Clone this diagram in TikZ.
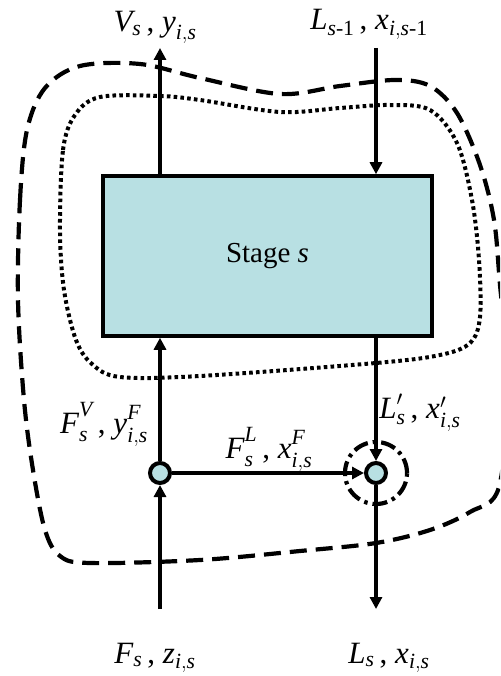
\documentclass[tikz,border=0pt]{standalone}
\usepackage{amsmath}
\usepackage{fontspec}
\setmainfont{Liberation Serif}
\usetikzlibrary{arrows.meta}
\definecolor{stagefill}{RGB}{184,224,227}
\newcommand\iv[1]{\textit{#1}}
\newcommand\sep{\,,\ }
% symbol with a superscript and a subscript held well apart
\newcommand\supsub[3]{#1^{\raisebox{4pt}{$\scriptstyle #2$}}_{\raisebox{-2pt}{$\scriptstyle #3$}}}
\begin{document}
\begin{tikzpicture}[x=1pt,y=-1pt,
  flow/.style={line width=4pt,-{Triangle[length=12pt,width=12pt]}},
  lbl/.style={font=\fontsize{31}{35}\selectfont,anchor=base,inner sep=0pt},
  junction/.style={circle,draw,line width=4pt,fill=stagefill,minimum size=20pt,inner sep=0pt},
  envelope/.style={line width=4.2pt,dash pattern=on 17pt off 9pt},
  controlvol/.style={line width=4pt,dash pattern=on 3.6pt off 3.2pt},
  mixzone/.style={line width=4.2pt,dash pattern=on 15pt off 5pt on 3.5pt off 5pt}]
\useasboundingbox (0,0) rectangle (500,676);

% outer envelope (dashed) and stage control volume (dotted)
\begin{scope}
  \clip (0,0) rectangle (500,676);
  \draw[envelope] plot[smooth cycle,tension=0.55] coordinates {
    (18,300) (20,200) (27,130) (45,88) (80,66) (140,64) (200,78) (280,94)
    (340,86) (395,80) (430,86) (457,113) (480,165) (494,220) (500,285)
    (508,380) (499,487) (470,512) (430,530) (376,543) (300,551) (200,560)
    (90,563) (60,556) (45,530) (33,470) (24,400)};
  \draw[controlvol] plot[smooth cycle,tension=0.55] coordinates {
    (60,230) (63,150) (75,115) (100,97) (160,96) (200,100) (280,112)
    (340,108) (390,105) (430,110) (457,143) (472,200) (479,260) (480,317)
    (470,343) (440,355) (376,363) (200,376) (120,377) (92,364) (76,340)
    (64,290)};
\end{scope}

% stage block
\node[draw,line width=3.5pt,fill=stagefill,minimum width=329pt,minimum height=160pt,
      font=\fontsize{29}{33}\selectfont] (stage) at (267.5,256) {Stage \textit{s}};

% feed split and liquid mixing junctions
\node[junction] (split) at (160,473) {};
\node[junction] (mix) at (376,473) {};
\draw[mixzone] (mix) circle (31pt);

% free ends of the streams
\coordinate (vout) at (160,48);
\coordinate (lin) at (376,48);
\coordinate (feed) at (160,609);
\coordinate (lout) at (376,609);

% streams
\draw[flow] (stage.north -| vout) -- (vout);
\draw[flow] (lin) -- (stage.north -| lin);
\draw[flow] (split) -- (stage.south -| split);
\draw[flow] (stage.south -| mix) -- (mix);
\draw[flow] (feed) -- (split);
\draw[flow] (split) -- (mix);
\draw[flow] (mix) -- (lout);

% stream labels
\node[lbl] (lblV) at (155,32) {$\iv{V}_{\iv{s}}$\sep$\iv{y}_{\iv{i},\iv{s}}$};
\node[lbl] (lblLin) at (369,30) {$\iv{L}_{\iv{s}\text{-1}}$\sep$\iv{x}_{\iv{i},\iv{s}\text{-1}}$};
\node[lbl] (lblFV) at (104,433) {$\supsub{\iv{F}}{\iv{V}}{\iv{s}}$\sep$\supsub{\iv{y}}{\iv{F}}{\iv{i},\iv{s}}$};
\node[lbl] (lblFL) at (269,458) {$\supsub{\iv{F}}{\iv{L}}{\iv{s}}$\sep$\supsub{\iv{x}}{\iv{F}}{\iv{i},\iv{s}}$};
\node[lbl] (lblLp) at (420,418) {$\iv{L}^{\prime}_{\iv{s}}$\sep$\iv{x}^{\prime}_{\iv{i},\iv{s}}$};
\node[lbl] (lblF) at (155,663) {$\iv{F}_{\iv{s}}$\sep$\iv{z}_{\iv{i},\iv{s}}$};
\node[lbl] (lblL) at (389,663) {$\iv{L}_{\iv{s}}$\sep$\iv{x}_{\iv{i},\iv{s}}$};
\end{tikzpicture}
\end{document}
